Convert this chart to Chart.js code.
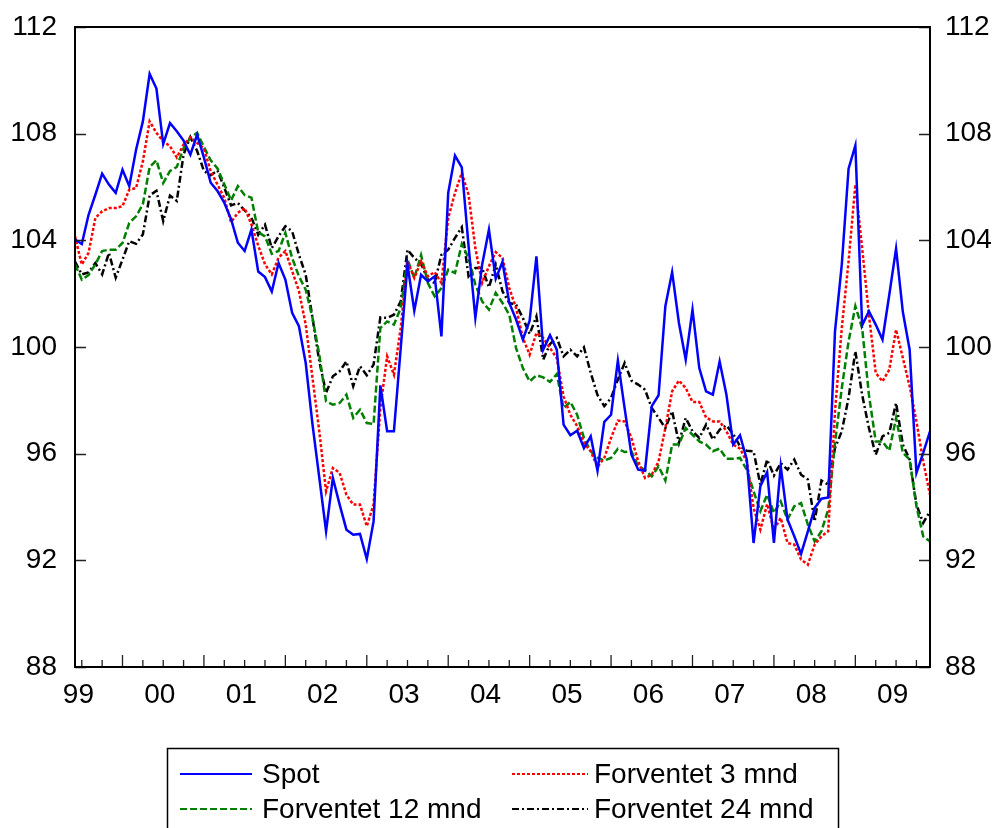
<!DOCTYPE html>
<html>
<head>
<meta charset="utf-8">
<script src="https://cdn.jsdelivr.net/npm/chart.js@4.4.0/dist/chart.umd.min.js"></script>
<style>
html, body { margin: 0; padding: 0; background: #fff; }
#wrap { width: 998px; height: 828px; }
</style>
</head>
<body>
<div id="wrap"><canvas id="chart" width="998" height="828"></canvas></div>
<script>
// Månedlige observasjoner, indeks 0 = juni 1999, 126 = desember 2009
const spot = [
    104.03, 103.86, 104.96, 105.71, 106.5, 106.09, 105.78, 106.65, 106.03, 107.4,
    108.46, 110.24, 109.69, 107.61, 108.4, 108.09, 107.74, 107.21, 107.96, 107.1,
    106.16, 105.85, 105.41, 104.79, 103.91, 103.6, 104.4, 102.83, 102.62, 102.08,
    103.15, 102.53, 101.28, 100.78, 99.4, 97.1, 95.1, 93.09, 95.09, 94.09,
    93.15, 92.96, 92.99, 92.05, 93.46, 98.56, 96.84, 96.84, 99.96, 103.09,
    101.36, 102.71, 102.46, 102.65, 100.4, 105.78, 107.18, 106.74, 103.78, 101.09,
    103.09, 104.4, 102.56, 103.19, 101.65, 101.03, 100.28, 100.99, 103.4, 99.9,
    100.44, 99.9, 97.09, 96.69, 96.86, 96.21, 96.65, 95.36, 97.19, 97.46,
    99.49, 97.7, 95.96, 95.4, 95.36, 97.78, 98.19, 101.53, 102.81, 100.9,
    99.53, 101.4, 99.21, 98.34, 98.21, 99.46, 98.21, 96.34, 96.69, 95.78,
    92.65, 94.78, 95.31, 92.65, 95.53, 93.53, 92.9, 92.24, 93.09, 93.96,
    94.31, 94.36, 100.59, 103.09, 106.69, 107.56, 100.81, 101.34, 100.84, 100.28,
    101.96, 103.69, 101.31, 99.9, 95.28, 96.03, 96.84
];
const forv3 = [
    104.15, 103.09, 103.53, 104.84, 105.09, 105.21, 105.21, 105.28, 105.9, 105.96,
    106.96, 108.46, 108.03, 107.71, 107.53, 107.11, 107.59, 107.86, 107.65, 107.44,
    106.59, 106.09, 105.59, 104.68, 105.03, 105.21, 104.6, 103.8, 103.1, 102.72,
    103.35, 103.6, 102.85, 102.1, 100.84, 98.84, 96.84, 94.59, 95.46, 95.28,
    94.46, 94.09, 94.09, 93.28, 94.09, 97.71, 99.65, 98.96, 100.71, 103.21,
    102.59, 103.21, 102.65, 102.81, 102.4, 104.84, 105.78, 106.53, 105.71, 103.71,
    102.4, 103.03, 103.56, 103.34, 102.21, 101.46, 100.34, 99.71, 100.53, 100.34,
    99.96, 99.59, 98.15, 97.46, 97.03, 96.4, 96.09, 95.5, 95.84, 96.59,
    97.24, 97.21, 96.59, 95.71, 95.09, 95.21, 95.71, 96.96, 98.34, 98.74,
    98.46, 97.94, 97.94, 97.36, 97.21, 97.21, 96.84, 96.34, 96.19, 95.71,
    93.96, 93.15, 94.11, 93.15, 93.59, 92.65, 92.59, 92.03, 91.84, 92.59,
    92.9, 93.09, 97.59, 100.71, 103.21, 106.09, 103.71, 101.21, 99.03, 98.71,
    99.15, 100.65, 99.59, 98.53, 97.21, 95.71, 94.46
];
const forv12 = [
    103.1, 102.53, 102.7, 103.1, 103.6, 103.65, 103.65, 103.9, 104.65, 104.9,
    105.35, 106.75, 107.0, 106.15, 106.6, 106.75, 107.45, 107.85, 108.03, 107.5,
    107.0, 106.7, 106.1, 105.5, 106.03, 105.7, 105.6, 104.3, 104.15, 103.49,
    103.6, 104.28, 103.34, 102.65, 102.15, 101.09, 99.71, 97.96, 97.84, 97.9,
    98.21, 97.34, 97.65, 97.15, 97.11, 100.71, 100.96, 100.84, 101.46, 103.28,
    102.59, 103.45, 102.4, 101.9, 102.21, 102.9, 102.78, 103.86, 103.34, 102.34,
    101.71, 101.4, 102.03, 101.65, 101.21, 99.96, 99.21, 98.71, 98.94, 98.86,
    98.69, 98.99, 97.71, 97.94, 97.46, 96.59, 96.09, 95.85, 95.74, 95.84,
    96.18, 96.06, 96.09, 95.53, 95.4, 95.15, 95.53, 94.99, 96.34, 96.34,
    96.96, 96.71, 96.46, 96.34, 96.09, 96.19, 95.81, 95.81, 95.84, 95.4,
    94.59, 93.84, 94.46, 93.78, 94.21, 93.53, 94.03, 94.15, 93.34, 92.71,
    93.09, 93.9, 96.4, 98.46, 100.21, 101.53, 100.71, 98.21, 96.46, 96.46,
    96.11, 97.34, 96.03, 95.78, 94.03, 92.9, 92.71
];
const forv24 = [
    103.2, 102.72, 102.8, 103.15, 102.72, 103.53, 102.6, 103.28, 103.97, 103.87,
    104.22, 105.68, 105.86, 104.72, 105.68, 105.48, 107.22, 107.87, 107.35, 106.6,
    106.44, 106.62, 105.97, 105.31, 105.4, 105.12, 104.85, 104.21, 104.59, 103.71,
    104.15, 104.53, 104.34, 103.46, 102.71, 101.09, 99.46, 98.28, 98.9, 99.09,
    99.46, 98.53, 99.28, 98.94, 99.34, 101.11, 101.09, 101.21, 101.71, 103.65,
    103.34, 103.12, 102.53, 102.4, 103.46, 103.65, 104.09, 104.49, 102.65, 102.96,
    102.96, 102.24, 103.09, 102.09, 101.65, 101.59, 101.09, 100.49, 101.15, 99.53,
    100.11, 100.34, 99.65, 99.9, 99.65, 99.99, 99.03, 98.2, 97.78, 98.09,
    98.78, 99.4, 98.74, 98.59, 98.4, 97.71, 97.34, 96.96, 97.59, 96.4,
    97.34, 96.84, 96.59, 97.09, 96.53, 96.9, 97.06, 96.74, 96.28, 96.11,
    96.09, 94.84, 95.78, 95.18, 95.65, 95.4, 95.78, 95.21, 95.03, 93.46,
    94.99, 94.84, 96.21, 96.84, 98.09, 99.84, 98.21, 96.96, 95.96, 96.65,
    96.78, 97.9, 96.34, 95.78, 94.09, 93.4, 93.84
];

const seriesNames = ['Spot', 'Forventet 3 mnd', 'Forventet 12 mnd', 'Forventet 24 mnd'];
const yearLabels = ['99', '00', '01', '02', '03', '04', '05', '06', '07', '08', '09'];
const yearLabelPos = [0.5, 12.5, 24.5, 36.5, 48.5, 60.5, 72.5, 84.5, 96.5, 108.5, 120.5];
const yTicks = [88, 92, 96, 100, 104, 108, 112];

const FONT = "'Liberation Sans', Arial, Helvetica, sans-serif";

function toPoints(arr) {
    return arr.map((v, i) => ({ x: i, y: v }));
}

// fast bredde, og ingen ekstra luft over/under for tikketekstene
function fixY(width) {
    return scale => {
        scale.width = width;
        scale.paddingTop = 0;
        scale.paddingBottom = 0;
    };
}

// ramme, innovervendte tikkmerker
const framePlugin = {
    id: 'frame',
    afterDatasetsDraw(chart) {
        const { ctx, chartArea: a, scales } = chart;
        ctx.save();
        ctx.strokeStyle = '#222';
        ctx.lineWidth = 1.3;
        ctx.beginPath();
        yTicks.forEach(v => {
            const y = Math.round(scales.y.getPixelForValue(v)) + 0.5;
            ctx.moveTo(a.left, y); ctx.lineTo(a.left + 11, y);
            ctx.moveTo(a.right, y); ctx.lineTo(a.right - 11, y);
        });
        // kvartalsvise tikk, lange ved årsskifte (januar = indeks 7)
        for (let m = 1; m <= 126; m += 3) {
            const x = scales.x.getPixelForValue(m);
            const len = ((m - 7) % 12 === 0) ? 12 : 7;
            ctx.moveTo(x, a.bottom); ctx.lineTo(x, a.bottom - len);
        }
        ctx.stroke();
        ctx.strokeStyle = '#000';
        ctx.lineWidth = 2;
        ctx.strokeRect(a.left, a.top, a.right - a.left, a.bottom - a.top);
        ctx.restore();
    }
};

// legende i boks, to kolonner
const legendPlugin = {
    id: 'boxLegend',
    afterDraw(chart) {
        const { ctx } = chart;
        const ds = chart.data.datasets;
        const cols = [[180, 252, 262], [512, 588, 594]];
        const rows = [774, 809];
        ctx.save();
        ctx.strokeStyle = '#000';
        ctx.lineWidth = 1.5;
        ctx.strokeRect(167.5, 748.5, 671, 100);
        ctx.font = '28px ' + FONT;
        ctx.textBaseline = 'middle';
        ctx.fillStyle = '#000';
        ds.forEach((d, i) => {
            const c = cols[i % 2], y = rows[Math.floor(i / 2)];
            ctx.strokeStyle = d.borderColor;
            ctx.lineWidth = 2;
            ctx.setLineDash(d.borderDash || []);
            ctx.beginPath();
            ctx.moveTo(c[0], y); ctx.lineTo(c[1], y);
            ctx.stroke();
            ctx.setLineDash([]);
            ctx.fillText(d.label, c[2], y + 1);
        });
        ctx.restore();
    }
};

const ctx = document.getElementById('chart').getContext('2d');
new Chart(ctx, {
    type: 'line',
    data: {
        datasets: [
            { label: seriesNames[0], data: toPoints(spot), borderColor: '#0000ff', borderWidth: 2.5 },
            { label: seriesNames[1], data: toPoints(forv3), borderColor: '#ff0000', borderWidth: 2.5, borderDash: [3, 2] },
            { label: seriesNames[2], data: toPoints(forv12), borderColor: '#008000', borderWidth: 2.5, borderDash: [7, 3] },
            { label: seriesNames[3], data: toPoints(forv24), borderColor: '#000000', borderWidth: 2.5, borderDash: [7, 3, 2, 3] }
        ]
    },
    options: {
        responsive: false,
        animation: false,
        devicePixelRatio: 1,
        layout: { padding: { left: 0, right: 0, top: 27, bottom: 111 } },
        elements: {
            point: { radius: 0 },
            line: { tension: 0, fill: false }
        },
        plugins: {
            legend: { display: false },
            tooltip: { enabled: false }
        },
        scales: {
            x: {
                type: 'linear',
                min: 0,
                max: 126,
                border: { display: false },
                grid: { display: false, drawTicks: false },
                afterBuildTicks: scale => {
                    scale.ticks = yearLabelPos.map(v => ({ value: v }));
                },
                afterFit: scale => { scale.height = 50; },
                ticks: {
                    autoSkip: false,
                    maxRotation: 0,
                    padding: 11,
                    color: '#000',
                    font: { family: FONT, size: 28 },
                    callback: (v, i) => yearLabels[i]
                }
            },
            y: {
                position: 'left',
                min: 88,
                max: 112,
                border: { display: false },
                grid: { display: false, drawTicks: false },
                afterFit: fixY(75),
                ticks: {
                    stepSize: 4,
                    padding: 18,
                    color: '#000',
                    font: { family: FONT, size: 28 }
                }
            },
            y2: {
                position: 'right',
                min: 88,
                max: 112,
                border: { display: false },
                grid: { display: false, drawTicks: false },
                afterFit: fixY(68),
                ticks: {
                    stepSize: 4,
                    padding: 15,
                    color: '#000',
                    font: { family: FONT, size: 28 }
                }
            }
        }
    },
    plugins: [framePlugin, legendPlugin]
});
</script>
</body>
</html>
